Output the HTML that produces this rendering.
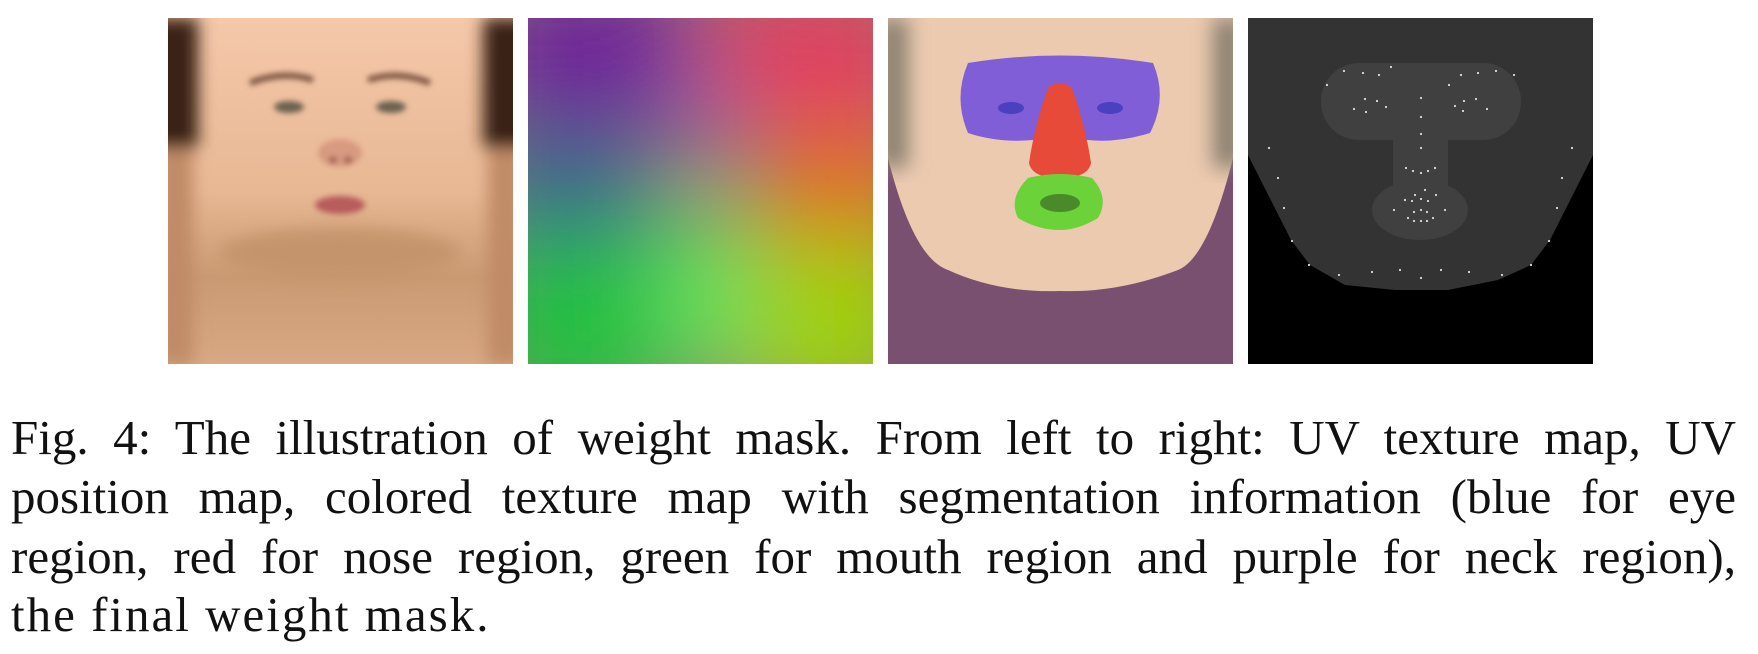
<!DOCTYPE html>
<html><head><meta charset="utf-8"><style>
html,body{margin:0;padding:0;background:#fff;width:1758px;height:654px;overflow:hidden;position:relative}
.p{position:absolute;top:18px;width:345px;height:346px}
.cap{position:absolute;left:11px;width:1725px;font-family:"Liberation Serif",serif;font-size:49px;color:#111;white-space:nowrap;line-height:59px}
.j{text-align:justify;text-align-last:justify}
</style></head><body>
<svg class="p" style="left:168px" viewBox="0 0 345 346">
<defs><filter id="b1"><feGaussianBlur stdDeviation="8"/></filter><filter id="b2"><feGaussianBlur stdDeviation="3"/></filter>
<linearGradient id="sk" x1="0" y1="0" x2="0" y2="1"><stop offset="0" stop-color="#f5c8aa"/><stop offset=".5" stop-color="#e8b894"/><stop offset=".75" stop-color="#c99a72"/><stop offset="1" stop-color="#d8a884"/></linearGradient></defs>
<rect width="345" height="346" fill="url(#sk)"/>
<g filter="url(#b1)"><rect x="-20" y="0" width="50" height="130" fill="#3a2418"/><rect x="315" y="0" width="50" height="130" fill="#3a2418"/>
<rect x="-10" y="130" width="35" height="216" fill="#c08a66"/><rect x="320" y="130" width="35" height="216" fill="#c08a66"/>
<ellipse cx="172" cy="235" rx="120" ry="25" fill="#c4946c"/></g>
<g filter="url(#b2)"><path d="M82 65 Q115 52 145 62" stroke="#7a5240" stroke-width="6" fill="none"/><path d="M200 62 Q230 52 262 65" stroke="#7a5240" stroke-width="6" fill="none"/>
<ellipse cx="121" cy="89" rx="15" ry="6" fill="#6a6050"/><ellipse cx="223" cy="89" rx="15" ry="6" fill="#6a6050"/>
<ellipse cx="172" cy="135" rx="22" ry="14" fill="#d89a80"/><ellipse cx="165" cy="142" rx="4" ry="3" fill="#8a4a3a"/><ellipse cx="180" cy="142" rx="4" ry="3" fill="#8a4a3a"/>
<ellipse cx="172" cy="187" rx="25" ry="9" fill="#b85c5c"/></g>
</svg>
<svg class="p" style="left:528px" viewBox="0 0 345 346">
<defs><filter id="b3"><feGaussianBlur stdDeviation="45"/></filter></defs>
<rect width="345" height="346" fill="#8a8a70"/>
<g filter="url(#b3)"><rect x="-40" y="-40" width="200" height="150" fill="#70209a"/><rect x="180" y="-40" width="210" height="150" fill="#e04060"/>
<rect x="-40" y="110" width="160" height="110" fill="#3a6a8a"/><rect x="230" y="110" width="160" height="110" fill="#e07020"/>
<rect x="-40" y="220" width="180" height="170" fill="#20c040"/><rect x="220" y="220" width="170" height="170" fill="#a0d010"/>
<rect x="140" y="50" width="70" height="90" fill="#9a60a0"/><rect x="130" y="200" width="90" height="150" fill="#60e060"/></g>
</svg>
<svg class="p" style="left:888px" viewBox="0 0 345 346">
<defs><filter id="b4"><feGaussianBlur stdDeviation="10"/></filter></defs>
<rect width="345" height="346" fill="#7a5070"/>
<path d="M0 0H345V140Q320 240 290 252Q230 275 172 273Q110 275 60 252Q25 240 0 140Z" fill="#eccab0"/>
<g filter="url(#b4)"><rect x="-10" y="0" width="30" height="150" fill="#8a8070"/><rect x="325" y="0" width="30" height="150" fill="#8a8070"/></g>
<path d="M80 45Q172 30 265 45Q280 80 262 115Q230 125 200 122L145 122Q110 125 80 115Q65 80 80 45Z" fill="#7f5ed8"/>
<ellipse cx="123" cy="90" rx="13" ry="6" fill="#4a40c0"/><ellipse cx="222" cy="90" rx="13" ry="6" fill="#4a40c0"/>
<path d="M160 70Q172 60 184 70Q198 110 203 145Q200 160 172 160Q144 160 141 145Q146 110 160 70Z" fill="#e84a3a"/>
<path d="M140 160Q172 152 204 160Q222 180 210 200Q190 212 172 212Q150 212 130 200Q120 180 140 160Z" fill="#6cd23a"/>
<ellipse cx="172" cy="185" rx="20" ry="9" fill="#4a8a2a"/>
</svg>
<svg class="p" style="left:1248px" viewBox="0 0 345 346">
<rect width="345" height="346" fill="#000"/>
<path d="M0 0H345V137L302 222L283 247L250 262L200 272H147L97 267L62 247L43 222L0 137Z" fill="#333"/>
<g fill="#404040"><rect x="73" y="45" width="200" height="77" rx="38"/><rect x="145" y="110" width="55" height="60"/><ellipse cx="172" cy="192" rx="48" ry="30"/></g>
<g fill="#ddd" id="dots"></g>
</svg>
<div class="cap j" style="top:408px">Fig. 4: The illustration of weight mask. From left to right: UV texture map, UV</div>
<div class="cap j" style="top:467px">position map, colored texture map with segmentation information (blue for eye</div>
<div class="cap j" style="top:527px">region, red for nose region, green for mouth region and purple for neck region),</div>
<div class="cap" style="top:585px;letter-spacing:2px">the final weight mask.</div>
<script>
const dotX=[96,115,131,143,79,266,248,230,213,201,117,129,106,118,138,173,216,228,207,215,239,173,173,173,158,165,173,180,187,167,177,157,164,173,180,188,146,166,173,179,197,160,166,173,179,185,21,30,36,44,61,91,124,152,173,193,221,254,283,301,309,314,324];
const dotY=[53,55,57,49,67,57,53,55,57,67,81,83,91,94,89,80,83,81,88,93,91,99,116,130,150,153,155,153,150,177,172,182,183,181,183,177,192,194,192,194,192,200,203,203,203,200,130,160,190,223,247,257,254,252,260,252,254,257,247,223,190,160,130];
const g=document.getElementById('dots');
dotX.forEach((x,i)=>{const c=document.createElementNS('http://www.w3.org/2000/svg','circle');
c.setAttribute('cx',x);c.setAttribute('cy',dotY[i]);c.setAttribute('r',1.1);


g.appendChild(c);});
</script>
</body></html>
